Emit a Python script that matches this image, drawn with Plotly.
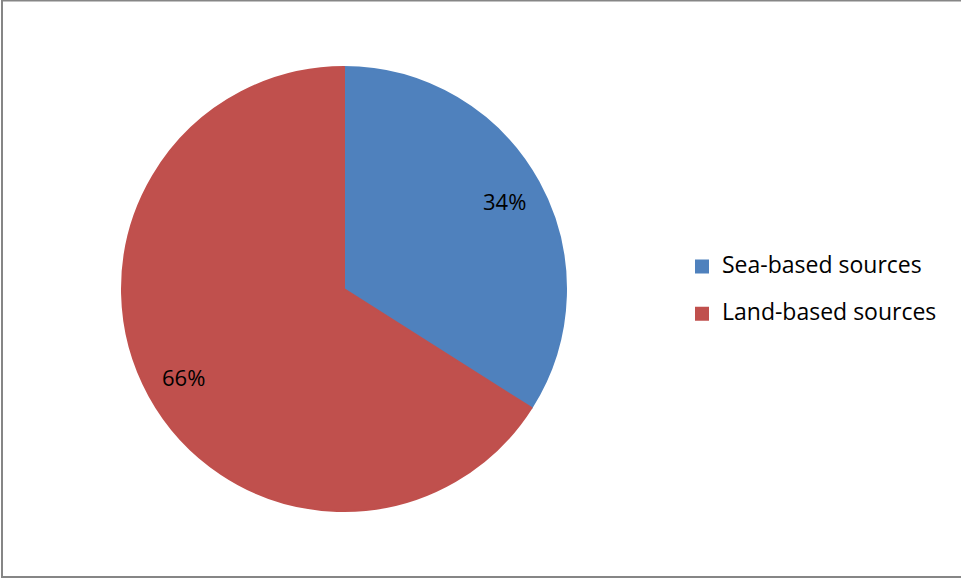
import math
import plotly.graph_objects as go

labels = ["Sea-based sources", "Land-based sources"]
values = [34, 66]
colors = ["#4F81BD", "#C0504D"]

W, H = 961, 579
cx, cy, r = 344, 289, 222
label_frac = 0.82

legend_labels = ["<span style='font-size:23px'>%s</span><br> " % labels[0],
                 "<span style='font-size:23px'>%s</span>" % labels[1]]

fig = go.Figure()
fig.add_trace(go.Pie(
    labels=legend_labels,
    values=values,
    sort=False,
    direction="clockwise",
    rotation=0,
    marker=dict(colors=colors, line=dict(width=2, color=colors)),
    textinfo="none",
    hoverinfo="skip",
    domain=dict(x=[(cx - r) / W, (cx + r) / W], y=[1 - (cy + r) / H, 1 - (cy - r) / H]),
))

# percentage labels placed along each slice's mid-angle
total = sum(values)
cum = 0.0
for v in values:
    mid = (cum + v / 2) / total * 2 * math.pi
    cum += v
    d = label_frac * (r + 1)
    px = cx + d * math.sin(mid)
    py = cy - d * math.cos(mid)
    fig.add_annotation(x=px / W, y=1 - py / H, xref="paper", yref="paper",
                       text="%d%%" % round(100 * v / total), showarrow=False,
                       font=dict(family="Open Sans", size=22, color="#000000"),
                       xanchor="center", yanchor="middle")

fig.add_shape(type="rect", xref="paper", yref="paper",
              x0=2 / W, x1=1.02, y0=1 - 577 / H, y1=1 - 0.5 / H,
              line=dict(color="#868686", width=2), fillcolor="rgba(0,0,0,0)")

fig.update_layout(
    width=W, height=H,
    margin=dict(l=0, r=0, t=0, b=0),
    paper_bgcolor="white", plot_bgcolor="white",
    font=dict(family="Open Sans", color="#000000"),
    showlegend=True,
    legend=dict(x=(722 - 40) / W, xanchor="left", y=1 - 249 / H, yanchor="top",
                valign="top", font=dict(family="Open Sans", size=17, color="#000000"),
                bgcolor="rgba(0,0,0,0)"),
)

fig.write_html("out.html", config={"displayModeBar": False},
               post_script="document.body.style.margin='0';")
